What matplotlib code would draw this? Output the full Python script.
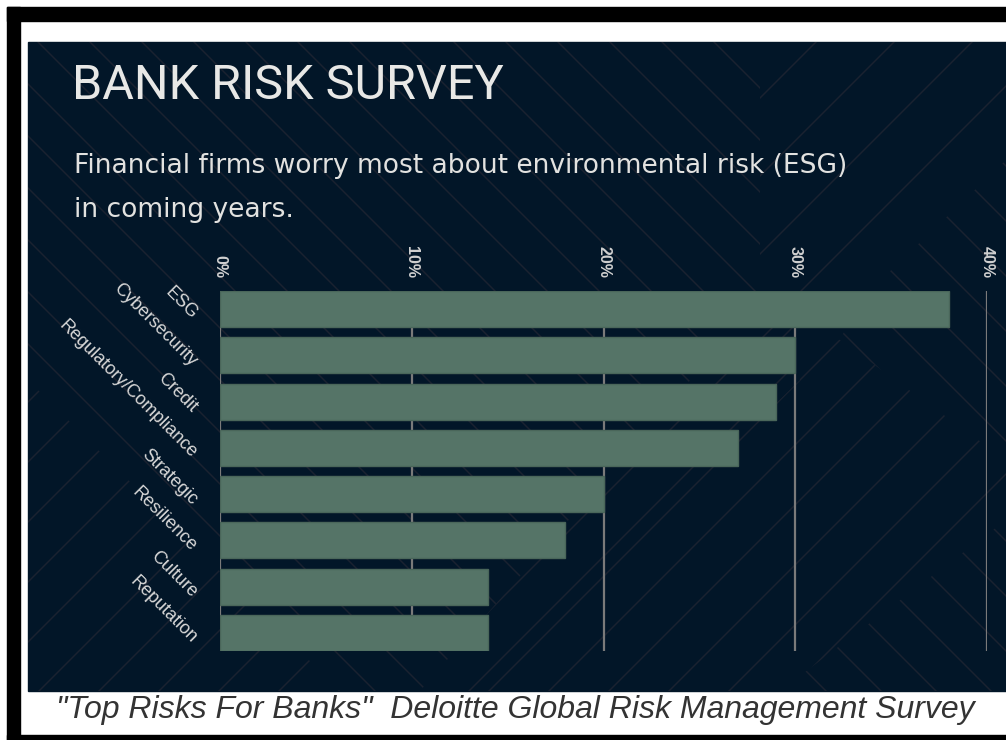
import matplotlib
matplotlib.use("Agg")
import matplotlib.pyplot as plt
from matplotlib.patches import Rectangle, Polygon
from matplotlib.ticker import FuncFormatter
from matplotlib.transforms import ScaledTranslation
import numpy as np

categories = ["ESG", "Cybersecurity", "Credit", "Regulatory/Compliance",
              "Strategic", "Resilience", "Culture", "Reputation"]
values = [38, 30, 29, 27, 20, 18, 14, 14]
x_ticks = [0, 10, 20, 30, 40]

title = "BANK RISK SURVEY"
subtitle1 = "Financial firms worry most about environmental risk (ESG)"
subtitle2 = "in coming years."
footer = "\"Top Risks For Banks\"  Deloitte Global Risk Management Survey"

W, H = 1006, 740
fig = plt.figure(figsize=(W / 100, H / 100), dpi=100)
fig.patch.set_facecolor("white")


def fx(x):
    return x / W


def fy(y):
    return 1 - y / H


bg = fig.add_axes([0, 0, 1, 1])
bg.set_xlim(0, W)
bg.set_ylim(H, 0)
bg.axis("off")

# black frame pieces
bg.add_patch(Rectangle((7, 7), W - 7, 14, color="black", zorder=1))
bg.add_patch(Rectangle((7, 7), 13, H - 7, color="black", zorder=1))
bg.add_patch(Rectangle((7, 735), W - 7, 5, color="black", zorder=1))

# dark panel
px0, py0, px1, py1 = 28, 42, W, 691
bg.add_patch(Rectangle((px0, py0), px1 - px0, py1 - py0, color="#021628", zorder=2))

pat_col = "#1a2230"


def hatch(region, direction, spacing, offset=0):
    poly = Polygon(region, closed=True, transform=bg.transData)
    for c in np.arange(-1200 + offset, 2200, spacing):
        if direction == "\\":
            xs, ys = [c, c + 900], [0, 900]
        else:
            xs, ys = [c, c - 900], [0, 900]
        ln, = bg.plot(xs, ys, color=pat_col, lw=1.1, zorder=3)
        ln.set_clip_path(poly)


hatch([(28, 42), (760, 42), (760, 300), (420, 691), (340, 691), (28, 380)], "\\", 52)
hatch([(28, 380), (340, 691), (28, 691)], "/", 60, 10)
hatch([(420, 691), (760, 300), (800, 380), (480, 691)], "/", 60, 20)
hatch([(760, 42), (1006, 42), (1006, 160), (860, 300), (760, 300)], "/", 78, 30)
hatch([(860, 300), (1006, 160), (1006, 460), (840, 340)], "\\", 55, 5)
hatch([(760, 300), (840, 340), (1006, 460), (1006, 520), (780, 691), (480, 691),
       (800, 380)], "/", 60, 40)
hatch([(780, 691), (1006, 520), (1006, 691)], "\\", 55, 15)

# titles
fig.text(fx(72), fy(99), title, fontsize=35, color="#e8e8e6",
         family=["Roboto", "DejaVu Sans"], fontweight="normal",
         va="baseline", ha="left")
fig.text(fx(74), fy(173), subtitle1, fontsize=19.1, color="#e2e2e0",
         family="DejaVu Sans", va="baseline", ha="left")
fig.text(fx(74), fy(217), subtitle2, fontsize=19.1, color="#e2e2e0",
         family="DejaVu Sans", va="baseline", ha="left")
fig.text(fx(515), fy(718), footer, fontsize=23, color="#333333", style="italic",
         family="Liberation Sans", va="baseline", ha="center")

# main chart
ax_l, ax_r, ax_t, ax_b = 220, 987, 291, 651
ax = fig.add_axes([fx(ax_l), fy(ax_b), fx(ax_r - ax_l), (ax_b - ax_t) / H])
ax.patch.set_alpha(0)
y = np.arange(len(categories))
bh = 0.778
ax.barh(y, values, height=bh, color="#557467", edgecolor="#4a665a",
        linewidth=1, zorder=3)
ax.set_ylim(len(categories) - 1 + bh / 2, -bh / 2)
ax.set_xlim(0, 40)
ax.set_xticks(x_ticks)
ax.xaxis.set_major_formatter(FuncFormatter(lambda v, p: f"{int(v)}%"))
ax.xaxis.tick_top()
ax.grid(axis="x", color="#7a7a7a", linewidth=1.6, zorder=0)
ax.set_axisbelow(True)
for s in ax.spines.values():
    s.set_visible(False)
ax.tick_params(axis="x", length=0, pad=9.5, labelsize=11.5, labelcolor="#d0d0d0",
               labelrotation=-90)
for lbl in ax.get_xticklabels():
    lbl.set_family("Liberation Sans")
    lbl.set_fontweight("bold")
ax.set_yticks(y)
ax.set_yticklabels(categories, rotation=-45, ha="right", va="center",
                   rotation_mode="anchor", fontsize=13, color="#d8d8d8",
                   family="Liberation Sans")
ax.tick_params(axis="y", length=0, pad=10)
shift = ScaledTranslation(-0.12, -0.08, fig.dpi_scale_trans)
for lbl in ax.get_yticklabels():
    lbl.set_transform(lbl.get_transform() + shift)

fig.savefig("out.png", dpi=100, facecolor="white")
